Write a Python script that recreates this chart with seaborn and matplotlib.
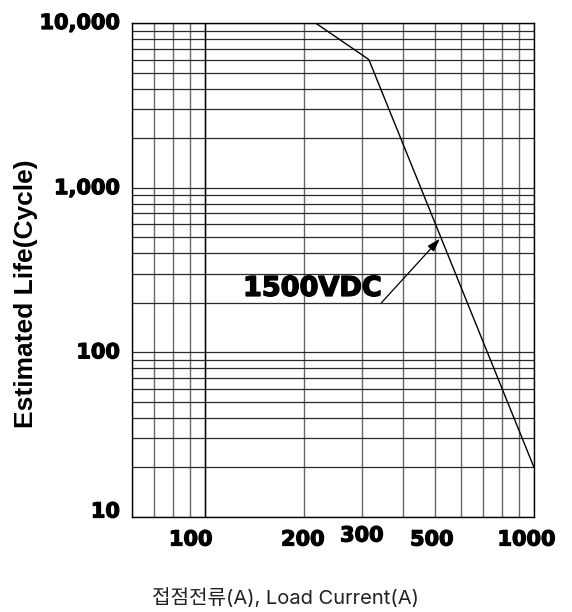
import matplotlib
matplotlib.use("Agg")
import matplotlib.pyplot as plt
import matplotlib.patheffects as pe
from matplotlib.ticker import FixedLocator, NullFormatter
from matplotlib.transforms import ScaledTranslation
import seaborn as sns
import pandas as pd

# ---- data ----
load_current = [217, 315, 1000]          # A
estimated_life = [10000, 6000, 20]       # cycles
series_label = "1500VDC"

x_major_ticks = [100, 200, 300, 500, 1000]
x_major_labels = ["100", "200", "300", "500", "1000"]
x_minor_ticks = [60, 70, 80, 90, 400, 600, 700, 800, 900]
y_major_ticks = [10, 100, 1000, 10000]
y_major_labels = ["10", "100", "1,000", "10,000"]
y_minor_ticks = [m * d for d in (10, 100, 1000) for m in range(2, 10)]

ylabel_text = "Estimated Life(Cycle)"
xlabel_text = "접점전류(A), Load Current(A)"

df = pd.DataFrame({"current": load_current, "life": estimated_life})

sns.set_style("white")
plt.rcParams["font.family"] = ["DejaVu Sans"]
plt.rcParams["text.color"] = "black"
plt.rcParams["xtick.color"] = "black"
plt.rcParams["ytick.color"] = "black"
plt.rcParams["axes.labelcolor"] = "black"

W, H = 572, 612
fig = plt.figure(figsize=(W / 100, H / 100), dpi=100)
L, R, T, B = 131.7, 534.0, 23.0, 517.0
ax = fig.add_axes([L / W, 1 - B / H, (R - L) / W, (B - T) / H])

ax.set_xscale("log")
ax.set_yscale("log")
ax.set_xlim(60, 1000)
ax.set_ylim(10, 10000)

# grid
ax.xaxis.set_major_locator(FixedLocator(x_major_ticks))
ax.xaxis.set_minor_locator(FixedLocator(x_minor_ticks))
ax.yaxis.set_major_locator(FixedLocator(y_major_ticks))
ax.yaxis.set_minor_locator(FixedLocator(y_minor_ticks))
ax.xaxis.set_minor_formatter(NullFormatter())
ax.yaxis.set_minor_formatter(NullFormatter())
ax.grid(True, which="both", axis="y", color="#2a2a2a", lw=0.9)
ax.grid(True, which="both", axis="x", color="#666666", lw=1.0)
ax.axvline(100, color="black", lw=1.0, zorder=1)
ax.set_axisbelow(True)

sns.lineplot(data=df, x="current", y="life", color="black", lw=1.0, ax=ax,
             legend=False, zorder=3)

ax.set_xticks(x_major_ticks)
ax.set_xticklabels(x_major_labels)
ax.set_yticks(y_major_ticks)
ax.set_yticklabels(y_major_labels)
ax.tick_params(axis="both", which="both", length=0)
ax.tick_params(axis="x", pad=9)
ax.tick_params(axis="y", pad=8.5)
heavy = [pe.withStroke(linewidth=0.9, foreground="black")]
for lab in ax.get_xticklabels() + ax.get_yticklabels():
    lab.set_fontfamily("DejaVu Sans")
    lab.set_fontweight("bold")
    lab.set_fontsize(15)
    lab.set_color("black")
    lab.set_path_effects(heavy)

# small per-label nudges (pixels) to mimic the reference placement
x_off = [(-14, 0), (-1, 0), (0, 4), (-3, 0), (-7.5, 0)]
y_off = [(0, 7.5), (0, 2), (0, 1.5), (0, 2)]
for lab, (dx, dy) in zip(ax.get_xticklabels(), x_off):
    lab.set_transform(lab.get_transform() + ScaledTranslation(dx / 100, dy / 100, fig.dpi_scale_trans))
for lab, (dx, dy) in zip(ax.get_yticklabels(), y_off):
    lab.set_transform(lab.get_transform() + ScaledTranslation(dx / 100, dy / 100, fig.dpi_scale_trans))

for s in ax.spines.values():
    s.set_color("black")
    s.set_linewidth(1.0)

ax.set_xlabel("")
ax.set_ylabel(ylabel_text, fontfamily="Liberation Sans", fontweight="bold",
              fontsize=19, color="black")
ax.yaxis.set_label_coords((38.3 - L) / (R - L), (B - 294) / (B - T))

fig.text(285 / W, 1 - 598 / H, xlabel_text, ha="center", va="center",
         fontsize=14.5, family=["Inter", "Noto Sans CJK KR", "DejaVu Sans"],
         color="#222222")

# annotation
ax.text(130.7, 243, series_label, ha="left", va="center", fontsize=19.5,
        fontweight="bold", fontfamily="DejaVu Sans", color="black", zorder=4,
        path_effects=[pe.withStroke(linewidth=1.1, foreground="black")])
ax.annotate("", xy=(518, 490), xytext=(344, 200),
            arrowprops=dict(arrowstyle="-|>,head_length=0.8,head_width=0.25",
                            color="black", lw=0.9, shrinkA=0, shrinkB=0),
            zorder=4)

fig.savefig("out.png", dpi=100)
